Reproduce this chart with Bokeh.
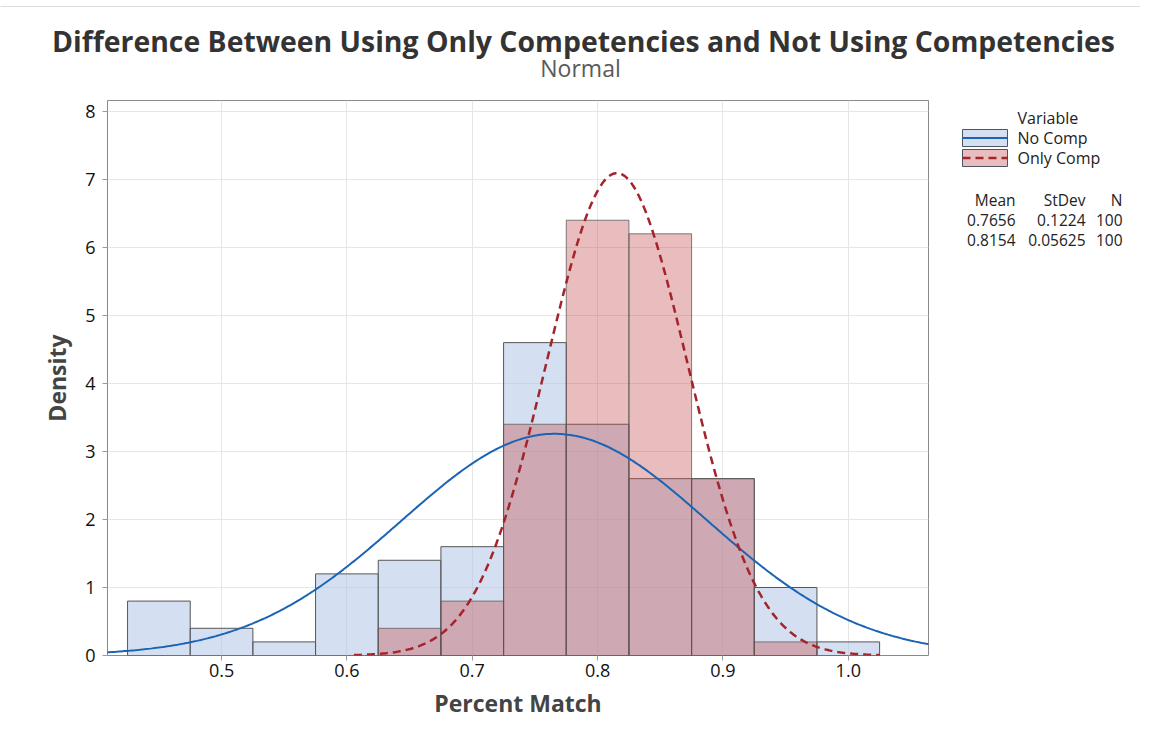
import numpy as np
from bokeh.plotting import figure
from bokeh.layouts import column, row
from bokeh.models import Range1d, FixedTicker, NumeralTickFormatter
from bokeh.core.properties import value
from bokeh.embed import file_html
from bokeh.resources import INLINE

# ---- data ----
bin_centers = [0.45, 0.50, 0.55, 0.60, 0.65, 0.70, 0.75, 0.80, 0.85, 0.90, 0.95, 1.00]
bin_width = 0.05
no_comp_density = [0.8, 0.4, 0.2, 1.2, 1.4, 1.6, 4.6, 3.4, 2.6, 2.6, 1.0, 0.2]
only_comp_density = [0.0, 0.0, 0.0, 0.0, 0.4, 0.8, 3.4, 6.4, 6.2, 2.6, 0.2, 0.0]
series_names = ["No Comp", "Only Comp"]
means = [0.7656, 0.8154]
stdevs = [0.1224, 0.05625]
counts = [100, 100]
x_ticks = [0.5, 0.6, 0.7, 0.8, 0.9, 1.0]
y_ticks = [0, 1, 2, 3, 4, 5, 6, 7, 8]
title_text = "Difference Between Using Only Competencies and Not Using Competencies"
subtitle_text = "Normal"

FONT = "Open Sans"
X0, X1 = 0.409, 1.064
Y0, Y1 = 0.0, 8.16
BLUE_FILL, BLUE_ALPHA = "#a9c1e3", 0.5
RED_FILL, RED_ALPHA = "#c54f52", 0.38
BLUE_LINE, RED_LINE = "#1b63b5", "#a3242a"

# ---------- title strip ----------
TOP_H = 90
top = figure(width=1140, height=TOP_H, output_backend="svg", toolbar_location=None,
             x_range=Range1d(0, 1140), y_range=Range1d(TOP_H, 0),
             x_axis_location=None, y_axis_location=None, min_border=0)
top.outline_line_color = None
top.grid.visible = False
top.segment(x0=[0], y0=[6], x1=[1140], y1=[6], line_color="#dddddd", line_width=1)
top.text(x=[583], y=[40], text=[title_text], text_font=value(FONT), text_font_size="28.4px",
         text_font_style="bold", text_color="#333333", text_align="center", text_baseline="middle")
top.text(x=[580], y=[67], text=[subtitle_text], text_font=value(FONT), text_font_size="23px",
         text_color="#5a5a5a", text_align="center", text_baseline="middle")

# ---------- main plot ----------
MAIN_H = 640
p = figure(width=930, height=MAIN_H, output_backend="svg", toolbar_location=None,
           x_range=Range1d(X0, X1), y_range=Range1d(Y0, Y1),
           min_border_left=107, min_border_right=2, min_border_top=10, min_border_bottom=75)
p.outline_line_color = "#8a8a8a"
p.outline_line_width = 1

for g in (p.xgrid[0], p.ygrid[0]):
    g.grid_line_color = "#e6e6e6"
    g.grid_line_width = 1
p.xgrid.ticker = FixedTicker(ticks=x_ticks)
p.ygrid.ticker = FixedTicker(ticks=y_ticks)

xa = p.xaxis[0]
xa.ticker = FixedTicker(ticks=x_ticks)
xa.formatter = NumeralTickFormatter(format="0.0")
ya = p.yaxis[0]
ya.ticker = FixedTicker(ticks=y_ticks)
for ax in (xa, ya):
    ax.axis_line_color = None
    ax.major_tick_line_color = "#9a9a9a"
    ax.major_tick_in = 0
    ax.major_tick_out = 5
    ax.minor_tick_line_color = None
    ax.major_label_text_font = FONT
    ax.major_label_text_font_size = "18px"
    ax.major_label_text_color = "#111111"
    ax.axis_label_text_font = FONT
    ax.axis_label_text_font_size = "23px"
    ax.axis_label_text_font_style = "bold"
    ax.axis_label_text_color = "#444444"
xa.axis_label = "Percent Match"
ya.axis_label = "Density"
xa.major_label_standoff = 3
ya.major_label_standoff = 7
xa.axis_label_standoff = 7
ya.axis_label_standoff = 9

lefts = [c - bin_width / 2 for c in bin_centers]
rights = [c + bin_width / 2 for c in bin_centers]

idx_nc = [i for i, v in enumerate(no_comp_density) if v > 0]
p.quad(left=[lefts[i] for i in idx_nc], right=[rights[i] for i in idx_nc],
       bottom=0, top=[no_comp_density[i] for i in idx_nc],
       fill_color=BLUE_FILL, fill_alpha=BLUE_ALPHA, line_color="#555555", line_width=1)
idx_oc = [i for i, v in enumerate(only_comp_density) if v > 0]
p.quad(left=[lefts[i] for i in idx_oc], right=[rights[i] for i in idx_oc],
       bottom=0, top=[only_comp_density[i] for i in idx_oc],
       fill_color=RED_FILL, fill_alpha=RED_ALPHA, line_color="#555555", line_alpha=0.75, line_width=1)

# fitted normal curves from the reported mean / stdev
def normal_pdf(x, m, s):
    return np.exp(-0.5 * ((x - m) / s) ** 2) / (s * np.sqrt(2 * np.pi))

xs_b = np.linspace(X0 - 0.01, X1 + 0.01, 400)
p.line(xs_b, normal_pdf(xs_b, means[0], stdevs[0]), line_color=BLUE_LINE, line_width=2)
xs_r = np.linspace(means[1] - 3.73 * stdevs[1], means[1] + 3.73 * stdevs[1], 300)
p.line(xs_r, normal_pdf(xs_r, means[1], stdevs[1]), line_color=RED_LINE, line_width=2.5,
       line_dash="8 5")

# ---------- side panel: legend + statistics (frame aligned with main frame: y 100..655) ----------
SIDE_X0, SIDE_W = 930, 210
side = figure(width=SIDE_W, height=MAIN_H, output_backend="svg", toolbar_location=None,
              x_range=Range1d(SIDE_X0, SIDE_X0 + SIDE_W), y_range=Range1d(655, 100),
              x_axis_location=None, y_axis_location=None,
              min_border_left=0, min_border_right=0, min_border_top=10, min_border_bottom=75)
side.outline_line_color = None
side.grid.visible = False

# legend swatches
sw_top = [129, 149]
sw_h = 17
side.quad(left=[962], right=[1007], top=[sw_top[0]], bottom=[sw_top[0] + sw_h],
          fill_color=BLUE_FILL, fill_alpha=BLUE_ALPHA, line_color="#4a5566", line_width=1)
side.quad(left=[962], right=[1007], top=[sw_top[1]], bottom=[sw_top[1] + sw_h],
          fill_color=RED_FILL, fill_alpha=RED_ALPHA, line_color="#4a5566", line_width=1)
side.line(x=[962, 1007], y=[sw_top[0] + sw_h / 2] * 2, line_color=BLUE_LINE, line_width=2)
side.line(x=[962, 1007], y=[sw_top[1] + sw_h / 2] * 2, line_color=RED_LINE, line_width=2.5,
          line_dash="8 5")

side.text(x=[1017, 1017, 1017], y=[117, sw_top[0] + sw_h / 2, sw_top[1] + sw_h / 2],
          text=["Variable"] + series_names, text_font=value(FONT), text_font_size="16px",
          text_color="#222222", text_align="left", text_baseline="middle")

col_right = [1015, 1085, 1122]
headers = ["Mean", "StDev", "N"]
rows = [headers] + [[f"{means[i]:.4f}", f"{stdevs[i]:g}", str(counts[i])] for i in range(2)]
row_y = [199, 219, 239]
tx, ty, tt = [], [], []
for i, r in enumerate(rows):
    for j, t in enumerate(r):
        tx.append(col_right[j]); ty.append(row_y[i]); tt.append(t)
side.text(x=tx, y=ty, text=tt, text_font=value(FONT), text_font_size="15.5px",
          text_color="#222222", text_align="right", text_baseline="middle")

layout = column(top, row(p, side))
open("out.html", "w").write(file_html(layout, INLINE))
